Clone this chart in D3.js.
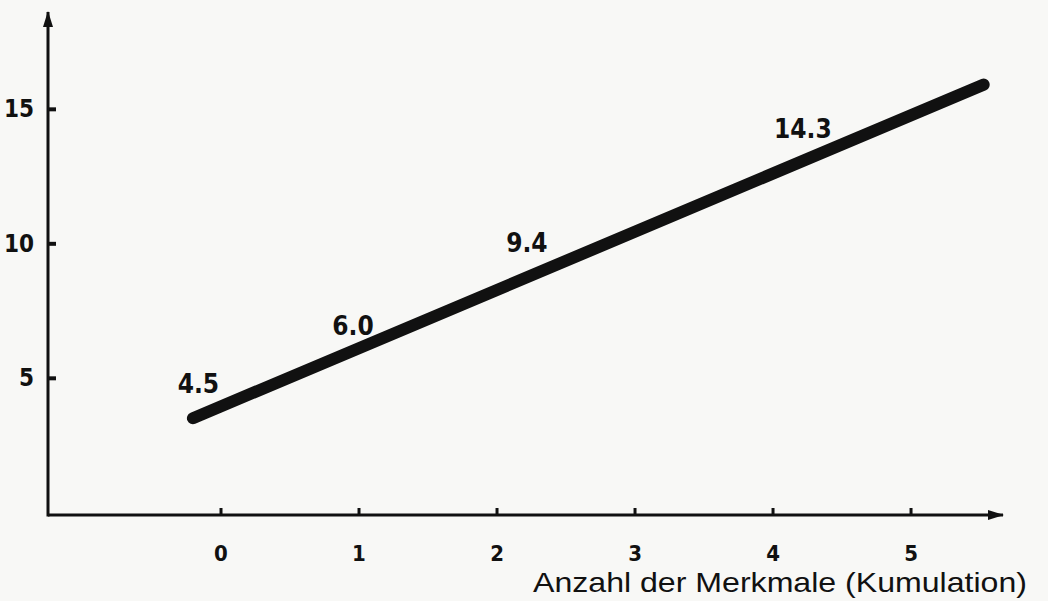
<!DOCTYPE html>
<html>
<head>
  <script src="https://cdnjs.cloudflare.com/ajax/libs/d3/7.8.5/d3.min.js" type="text/javascript"></script>
  <style>
    body { margin: 0; background: #f8f8f6; }
    svg { display: block; }
    .tick text { font-family: "DejaVu Sans Condensed", "DejaVu Sans", sans-serif; font-weight: bold; fill: #111; }
    .val { font-family: "DejaVu Sans Condensed", "DejaVu Sans", sans-serif; font-weight: bold; font-size: 26px; fill: #111; }
    .title { font-family: "Liberation Sans", Arial, sans-serif; font-size: 28px; fill: #111; }
  </style>
</head>
<body>
  <svg id="chart" width="1048" height="601"></svg>
  <script>

// axis ticks
var xTicks = [0, 1, 2, 3, 4, 5];
var yTicks = [5, 10, 15];

// the drawn trend line (two ends, in data units)
var lineX = [-0.2, 5.53];
var lineY = [3.5, 15.9];

// values written along the line, and where they sit (data units)
var valueLabels = ["4.5", "6.0", "9.4", "14.3"];
var labelX = [-0.16, 0.96, 2.22, 4.22];
var labelY = [4.43, 6.59, 9.68, 13.9];

var xTitle = "Anzahl der Merkmale (Kumulation)";

var svg = d3.select("#chart");
var ink = "#111";

var x = d3.scaleLinear().domain([-1.25, 5.67]).range([48, 1003]);
var y = d3.scaleLinear().domain([-0.1, 18.6]).range([515, 12]);

// arrow heads for the axes
svg.append("defs").append("marker")
  .attr("id", "arrow")
  .attr("markerUnits", "userSpaceOnUse")
  .attr("viewBox", "0 -5 16 10")
  .attr("refX", 15)
  .attr("refY", 0)
  .attr("markerWidth", 16)
  .attr("markerHeight", 10)
  .attr("orient", "auto")
  .append("path")
  .attr("d", "M0,-5L16,0L0,5Z")
  .attr("fill", ink);

// x axis
var xAxis = svg.append("g")
  .attr("transform", "translate(0," + y(-0.1) + ")")
  .call(d3.axisBottom(x).tickValues(xTicks).tickSizeOuter(0).tickSize(-7).tickPadding(30).tickFormat(d3.format("d")));

xAxis.select(".domain").remove();
xAxis.selectAll(".tick line").attr("stroke", ink).attr("stroke-width", 3);
xAxis.selectAll(".tick text").style("font-size", "22px");

svg.append("line")
  .attr("x1", x.range()[0]).attr("x2", x.range()[1])
  .attr("y1", y(-0.1)).attr("y2", y(-0.1))
  .attr("stroke", ink).attr("stroke-width", 3)
  .attr("marker-end", "url(#arrow)");

// y axis
var yAxis = svg.append("g")
  .attr("transform", "translate(" + x(-1.25) + ",0)")
  .call(d3.axisLeft(y).tickValues(yTicks).tickSizeOuter(0).tickSize(-8).tickPadding(14).tickFormat(d3.format("d")));

yAxis.select(".domain").remove();
yAxis.selectAll(".tick line").attr("stroke", ink).attr("stroke-width", 4);
yAxis.selectAll(".tick text").style("font-size", "24px");

svg.append("line")
  .attr("x1", x(-1.25)).attr("x2", x(-1.25))
  .attr("y1", y.range()[0] + 1.5).attr("y2", y.range()[1])
  .attr("stroke", ink).attr("stroke-width", 3)
  .attr("marker-end", "url(#arrow)");

// trend line
var pts = lineX.map(function(d, i) { return [d, lineY[i]]; });
svg.append("path")
  .datum(pts)
  .attr("d", d3.line().x(d => x(d[0])).y(d => y(d[1])))
  .attr("fill", "none")
  .attr("stroke", ink)
  .attr("stroke-width", 12)
  .attr("stroke-linecap", "round");

// values on the line
svg.selectAll(".val")
  .data(valueLabels)
  .enter()
  .append("text")
  .attr("class", "val")
  .attr("x", (d, i) => x(labelX[i]))
  .attr("y", (d, i) => y(labelY[i]))
  .attr("text-anchor", "middle")
  .text(d => d);

// x axis title
svg.append("text")
  .attr("class", "title")
  .attr("x", 533)
  .attr("y", 592)
  .attr("textLength", 494)
  .attr("lengthAdjust", "spacingAndGlyphs")
  .text(xTitle);
  </script>
</body>
</html>
